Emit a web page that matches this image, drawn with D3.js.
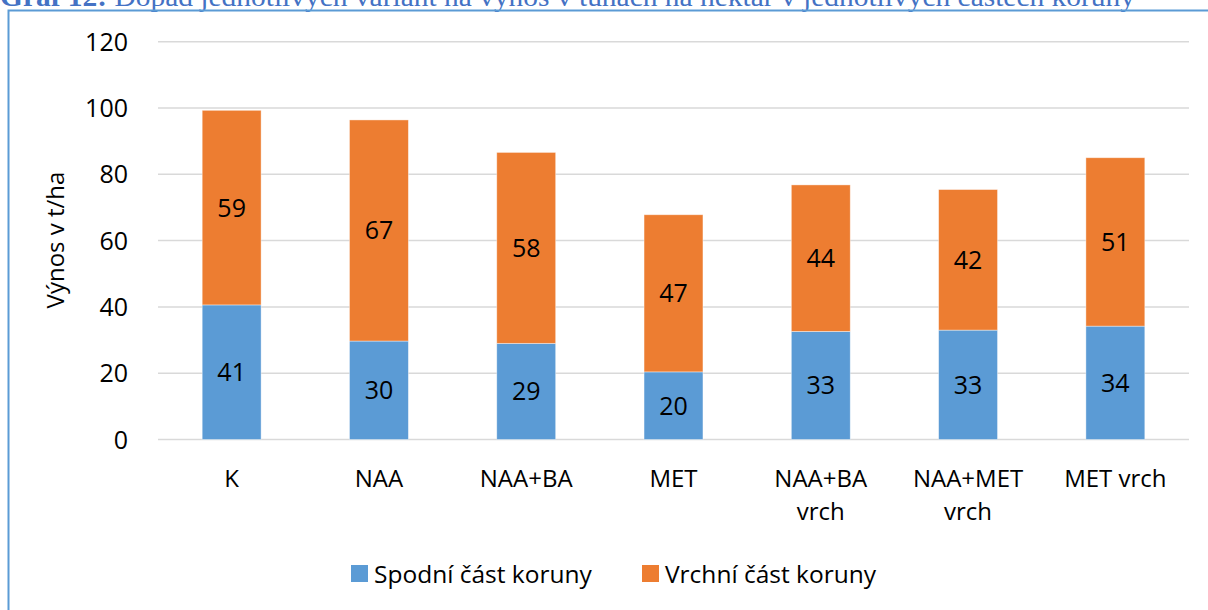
<!DOCTYPE html>
<html>
<head>
<meta charset="utf-8">
<script src="https://cdn.jsdelivr.net/npm/d3@7"></script>
<style>
  html, body { margin: 0; padding: 0; background: #fff; }
  svg { display: block; }
</style>
</head>
<body>
<div id="chart"></div>
<script>
// kategorie (druhý řádek popisku po "|")
const categories = ["K", "NAA", "NAA+BA", "MET", "NAA+BA|vrch", "NAA+MET|vrch", "MET vrch"];
const spodni = [40.6, 29.7, 29.0, 20.4, 32.6, 33.0, 34.2];
const vrchni = [58.7, 66.7, 57.6, 47.4, 44.2, 42.4, 50.8];
const seriesNames = ["Spodní část koruny", "Vrchní část koruny"];
const yTicks = [0, 20, 40, 60, 80, 100, 120];

const W = 1208, H = 610;
const colors = ["#5b9bd5", "#ed7d31"];
const font = "'Open Sans', sans-serif";

const svg = d3.select("#chart").append("svg")
  .attr("width", W).attr("height", H)
  .style("font-family", font);

svg.append("rect").attr("width", W).attr("height", H).attr("fill", "#fff");

// titulek grafu (v předloze nahoře oříznutý)
const cap = svg.append("text")
  .attr("x", 0).attr("y", 6)
  .attr("fill", "#4472c4")
  .attr("textLength", 1135)
  .attr("lengthAdjust", "spacingAndGlyphs")
  .style("font-family", "'Liberation Serif', serif")
  .style("font-size", "27px");
cap.append("tspan").style("font-weight", "bold").text("Graf 12:");
cap.append("tspan").text(" Dopad jednotlivých variant na výnos v tunách na hektar v jednotlivých částech koruny");

// rámeček
svg.append("path")
  .attr("d", `M8.5,${H} V10.5 H${W}`)
  .attr("fill", "none")
  .attr("stroke", "#5b9bd5")
  .attr("stroke-width", 2);

// --- škály ---
const x = d3.scaleBand()
  .domain(categories)
  .range([158, 1189])
  .paddingInner(0.6)
  .paddingOuter(0.3);

const y = d3.scaleLinear()
  .domain([0, 120])
  .range([439.5, 41.7]);

// mřížka
svg.append("g")
  .selectAll("line")
  .data(yTicks)
  .join("line")
  .attr("x1", 158).attr("x2", 1189)
  .attr("y1", d => y(d)).attr("y2", d => y(d))
  .attr("stroke", "#d9d9d9")
  .attr("stroke-width", 1.5);

// popisky osy Y
svg.append("g")
  .selectAll("text")
  .data(yTicks)
  .join("text")
  .attr("x", 128)
  .attr("y", d => y(d))
  .attr("dy", "0.36em")
  .attr("text-anchor", "end")
  .attr("fill", "#000")
  .style("font-size", "25px")
  .text(d => d);

svg.append("text")
  .attr("transform", `translate(55,240) rotate(-90)`)
  .attr("text-anchor", "middle")
  .attr("dy", "0.36em")
  .style("font-size", "24px")
  .text("Výnos v t/ha");

// --- skládané sloupce ---
const rows = categories.map((c, i) => ({ cat: c, s0: spodni[i], s1: vrchni[i] }));
const stack = d3.stack().keys(["s0", "s1"])(rows);

const layers = svg.append("g")
  .selectAll("g")
  .data(stack)
  .join("g")
  .attr("fill", (d, i) => colors[i]);

layers.selectAll("rect")
  .data(d => d)
  .join("rect")
  .attr("x", d => x(d.data.cat))
  .attr("width", x.bandwidth())
  .attr("y", d => y(d[1]))
  .attr("height", d => y(d[0]) - y(d[1]))
  .attr("stroke", "#fff")
  .attr("stroke-opacity", 0.5)
  .attr("stroke-width", 0.8);

// hodnoty v sloupcích
layers.selectAll("text")
  .data(d => d)
  .join("text")
  .attr("x", d => x(d.data.cat) + x.bandwidth() / 2)
  .attr("y", d => y((d[0] + d[1]) / 2))
  .attr("dy", "0.36em")
  .attr("text-anchor", "middle")
  .attr("fill", "#000")
  .style("font-size", "25px")
  .text(d => Math.round(d[1] - d[0]));

// popisky kategorií
const catLabels = svg.append("g")
  .selectAll("text")
  .data(categories)
  .join("text")
  .attr("x", d => x(d) + x.bandwidth() / 2)
  .attr("y", 487)
  .attr("text-anchor", "middle")
  .style("font-size", "24px");

catLabels.selectAll("tspan")
  .data(d => d.split("|").map((t, i) => ({ t, i, cx: x(d) + x.bandwidth() / 2 })))
  .join("tspan")
  .attr("x", d => d.cx)
  .attr("dy", d => d.i === 0 ? 0 : 33)
  .text(d => d.t);

// legenda
const legendX = [351, 642];
const legend = svg.append("g")
  .selectAll("g")
  .data(seriesNames)
  .join("g")
  .attr("transform", (d, i) => `translate(${legendX[i]},565)`);

legend.append("rect")
  .attr("width", 17).attr("height", 17)
  .attr("fill", (d, i) => colors[i]);

legend.append("text")
  .attr("x", 23).attr("y", 18)
  .style("font-size", "24.5px")
  .text(d => d);
</script>
</body>
</html>
